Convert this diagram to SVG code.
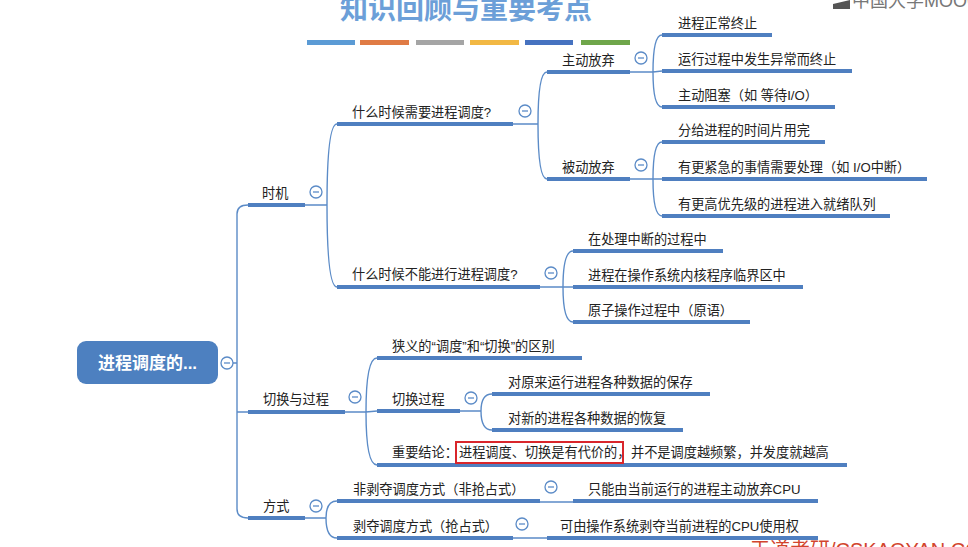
<svg xmlns="http://www.w3.org/2000/svg" width="968" height="547" viewBox="0 0 968 547">
<style>
text{font-family:"Liberation Sans","Noto Sans CJK SC",sans-serif;fill:#222;font-size:13.2px}
.ul{stroke:#4f7fc0;stroke-width:4;fill:none}
.cn{stroke:#5b8bc7;stroke-width:1.4;fill:none}
.tg{fill:#fff;stroke:#5b8bc7;stroke-width:1.3}
.tm{stroke:#5b8bc7;stroke-width:1.3}
.title{font-size:28px;font-weight:bold;fill:#6c9fd8}
.root{font-size:17px;font-weight:bold;fill:#fff}
</style>
<defs>
<g id="tog"><circle r="6" class="tg"/><line x1="-3" y1="0" x2="3" y2="0" class="tm"/></g>
</defs>
<rect width="968" height="547" fill="#fff"/>
<g id="header">
<text class="title" x="466" y="19" text-anchor="middle">知识回顾与重要考点</text>
<rect x="307" y="40" width="48" height="5" fill="#5b9bd5"/>
<rect x="360" y="40" width="49" height="5" fill="#e07b45"/>
<rect x="416" y="40" width="48" height="5" fill="#a5a5a5"/>
<rect x="470" y="40" width="49" height="5" fill="#f2b844"/>
<rect x="525" y="40" width="48" height="5" fill="#4672c0"/>
<rect x="581" y="40" width="49" height="5" fill="#6fa64a"/>
</g>
<g id="watermarks">
<polygon points="833,4 850,0 850,9 833,9" fill="#555"/>
<text x="852" y="7" style="font-size:18px;fill:#777">中国大学MOOC</text>
<text x="750" y="557" style="font-size:20px;fill:#d2452e">王道考研/CSKAOYAN.COM</text>
</g>
<g id="connectors">
<path class="cn" d="M233 363 L237 363 M248 205 Q237 205 237 214 L237 509 Q237 518 248 518 M237 412 L248 412"/>
<path class="cn" d="M305 205 L327 205 M327 205 Q327 124 337 124 M327 205 Q327 287 337 287"/>
<path class="cn" d="M513 124 L538 124 M538 124 Q538 72 547 72 M538 124 Q538 179 547 179"/>
<path class="cn" d="M630 72 L653 72 M653 72 Q653 35 662 35 M653 72 L662 71 M653 72 Q653 107 662 107"/>
<path class="cn" d="M630 179 L653 179 M653 179 Q653 142 662 142 M653 179 L662 179 M653 179 Q653 216 662 216"/>
<path class="cn" d="M540 287 L563 287 M563 287 Q563 251 573 251 M563 287 L573 287 M563 287 Q563 322 573 322"/>
<path class="cn" d="M345 412 L366 412 M366 412 Q366 358 377 358 M366 412 L377 411 M366 412 Q366 465 377 465"/>
<path class="cn" d="M460 411 L481 411 M481 411 Q481 394 492 394 M481 411 Q481 430 492 430"/>
<path class="cn" d="M305 518 L326 518 M326 518 Q326 501 337 501 M326 518 Q326 538 337 538"/>
<path class="cn" d="M540 502 L573 502 M513 538 L547 538"/>
</g>
<g id="root">
<rect x="77" y="341" width="141" height="43" rx="9" fill="#4d80c0"/>
<text class="root" x="147.5" y="369" text-anchor="middle">进程调度的...</text>
<use href="#tog" x="227" y="363"/>
</g>
<g id="n-shiji"><line class="ul" x1="248" y1="205" x2="305" y2="205"/><text x="262" y="198">时机</text><use href="#tog" x="316" y="192"/></g>
<g id="n-need"><line class="ul" x1="337" y1="124" x2="513" y2="124"/><text x="352" y="117">什么时候需要进程调度?</text><use href="#tog" x="525" y="111"/></g>
<g id="n-zhudong"><line class="ul" x1="547" y1="72" x2="630" y2="72"/><text x="562" y="65">主动放弃</text><use href="#tog" x="641" y="58"/></g>
<g id="n-z1"><line class="ul" x1="662" y1="35" x2="772" y2="35"/><text x="678" y="28">进程正常终止</text></g>
<g id="n-z2"><line class="ul" x1="662" y1="71" x2="852" y2="71"/><text x="678" y="64">运行过程中发生异常而终止</text></g>
<g id="n-z3"><line class="ul" x1="662" y1="107" x2="835" y2="107"/><text x="678" y="100">主动阻塞（如 等待I/O）</text></g>
<g id="n-beidong"><line class="ul" x1="547" y1="179" x2="630" y2="179"/><text x="562" y="172">被动放弃</text><use href="#tog" x="641" y="165"/></g>
<g id="n-b1"><line class="ul" x1="662" y1="142" x2="825" y2="142"/><text x="678" y="135">分给进程的时间片用完</text></g>
<g id="n-b2"><line class="ul" x1="662" y1="179" x2="927" y2="179"/><text x="678" y="172">有更紧急的事情需要处理（如 I/O中断）</text></g>
<g id="n-b3"><line class="ul" x1="662" y1="216" x2="890" y2="216"/><text x="678" y="209">有更高优先级的进程进入就绪队列</text></g>
<g id="n-cannot"><line class="ul" x1="337" y1="287" x2="540" y2="287"/><text x="352" y="279">什么时候不能进行进程调度?</text><use href="#tog" x="551" y="273"/></g>
<g id="n-c1"><line class="ul" x1="573" y1="251" x2="723" y2="251"/><text x="588" y="244">在处理中断的过程中</text></g>
<g id="n-c2"><line class="ul" x1="573" y1="287" x2="803" y2="287"/><text x="588" y="280">进程在操作系统内核程序临界区中</text></g>
<g id="n-c3"><line class="ul" x1="573" y1="322" x2="750" y2="322"/><text x="588" y="315">原子操作过程中（原语）</text></g>
<g id="n-qiehuan"><line class="ul" x1="248" y1="412" x2="345" y2="412"/><text x="263" y="404">切换与过程</text><use href="#tog" x="355" y="397"/></g>
<g id="n-q1"><line class="ul" x1="377" y1="358" x2="582" y2="358"/><text x="392" y="351">狭义的“调度”和“切换”的区别</text></g>
<g id="n-q2"><line class="ul" x1="377" y1="411" x2="460" y2="411"/><text x="392" y="404">切换过程</text><use href="#tog" x="471" y="398"/></g>
<g id="n-q21"><line class="ul" x1="492" y1="394" x2="710" y2="394"/><text x="508" y="387">对原来运行进程各种数据的保存</text></g>
<g id="n-q22"><line class="ul" x1="492" y1="430" x2="683" y2="430"/><text x="508" y="423">对新的进程各种数据的恢复</text></g>
<g id="n-q3"><line class="ul" x1="377" y1="465" x2="847" y2="465"/>
<text x="392" y="457">重要结论：</text>
<rect x="456" y="442" width="167" height="21" fill="none" stroke="#d9262b" stroke-width="2"/>
<text x="459" y="457">进程调度、切换是有代价的，</text>
<text x="631" y="457">并不是调度越频繁，并发度就越高</text></g>
<g id="n-fangshi"><line class="ul" x1="248" y1="518" x2="305" y2="518"/><text x="263" y="511">方式</text><use href="#tog" x="316" y="506"/></g>
<g id="n-f1"><line class="ul" x1="337" y1="501" x2="540" y2="501"/><text x="353" y="494">非剥夺调度方式（非抢占式）</text><use href="#tog" x="551" y="487"/></g>
<g id="n-f11"><line class="ul" x1="573" y1="501" x2="818" y2="501"/><text x="588" y="494">只能由当前运行的进程主动放弃CPU</text></g>
<g id="n-f2"><line class="ul" x1="337" y1="538" x2="513" y2="538"/><text x="353" y="531">剥夺调度方式（抢占式）</text><use href="#tog" x="522" y="524"/></g>
<g id="n-f21"><line class="ul" x1="547" y1="538" x2="818" y2="538"/><text x="560" y="531">可由操作系统剥夺当前进程的CPU使用权</text></g>
</svg>
